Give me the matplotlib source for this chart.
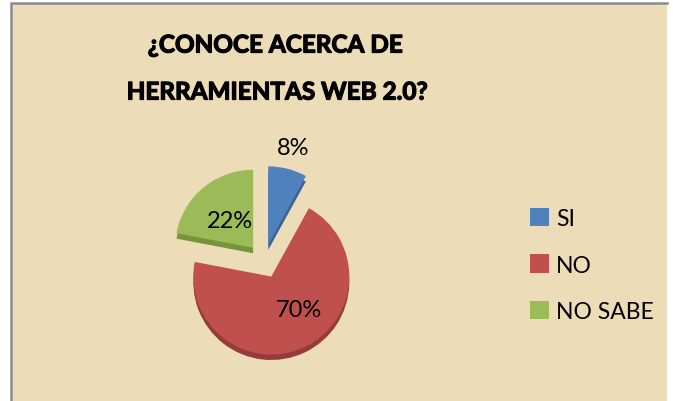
import matplotlib
matplotlib.use("Agg")
import numpy as np
import matplotlib.pyplot as plt
import matplotlib.patheffects as pe
from matplotlib.patches import Rectangle, Patch

plt.rcParams['font.family'] = ['Lato', 'DejaVu Sans']

# --- data ---
categories = ["SI", "NO", "NO SABE"]
percentages = [8, 70, 22]
title_lines = ["¿CONOCE ACERCA DE", "HERRAMIENTAS WEB 2.0?"]

top_colors = ["#4F81BD", "#C0504D", "#9BBB59"]
side_colors = ["#3B6496", "#943C3A", "#77933C"]
# label placement: distance from wedge tip (radius units), angle nudge (deg)
label_dist = [1.28, 0.55, 0.46]
label_nudge = [0, 14, 0]

W, H = 673, 402
fig = plt.figure(figsize=(W / 100, H / 100), dpi=100)
fig.patch.set_facecolor("white")

# parchment-like panel with grey frame on left/top
bg_ax = fig.add_axes([0, 0, 1, 1], zorder=0)
bg_ax.set_xlim(0, W)
bg_ax.set_ylim(H, 0)
bg_ax.axis("off")
bg_ax.add_patch(Rectangle((10.5, 3.5), 667 - 10.5, H, facecolor="#ECDCB8",
                          edgecolor="none"))
bg_ax.plot([10.5, 10.5, 667], [H, 3.5, 3.5], color="#8C8C8C", lw=1.8,
           solid_joinstyle="miter")

# title (stroke thickens Lato bold towards the heavier original face)
heavy = [pe.withStroke(linewidth=0.9, foreground="black")]
fig.text(275 / W, 1 - 46 / H, title_lines[0], ha="center", va="center",
         fontsize=17.5, fontweight="bold", color="black", zorder=3,
         path_effects=heavy)
fig.text(277 / W, 1 - 93 / H, title_lines[1], ha="center", va="center",
         fontsize=17.5, fontweight="bold", color="black", zorder=3,
         path_effects=heavy)

# pie
R = 78.0
cx, cy = 264, 262
L = 1.5
side = 2 * L * R
ax = fig.add_axes([(cx - side / 2) / W, (H - cy - side / 2) / H, side / W, side / H],
                  zorder=2)
ax.patch.set_alpha(0)

explode = [0.22] * len(percentages)
# darker copy shifted down gives the thickness of the 3-D pie
ax.pie(percentages, colors=side_colors, startangle=90, counterclock=False,
       explode=explode, center=(0, -0.07), wedgeprops=dict(linewidth=0))
wedges, _ = ax.pie(percentages, colors=top_colors, startangle=90, counterclock=False,
                   explode=explode, wedgeprops=dict(linewidth=0))
ax.set_xlim(-L, L)
ax.set_ylim(-L, L)
ax.set_aspect("equal")
ax.axis("off")

for w, p, d, n in zip(wedges, percentages, label_dist, label_nudge):
    ang = np.deg2rad((w.theta1 + w.theta2) / 2 + n)
    x0, y0 = w.center
    ax.text(x0 + d * np.cos(ang), y0 + d * np.sin(ang), f"{p}%",
            ha="center", va="center", fontsize=17, color="black")

# legend
handles = [Patch(facecolor=c, edgecolor="none") for c in top_colors]
leg = fig.legend(handles, categories, loc="center left",
                 bbox_to_anchor=(530 / W, 1 - 266 / H), frameon=False,
                 fontsize=16.5, handlelength=0.85, handleheight=0.85,
                 handletextpad=0.3, labelspacing=1.1, borderpad=0,
                 borderaxespad=0)
leg.set_zorder(3)

fig.savefig("out.png", dpi=100, facecolor=fig.get_facecolor())
